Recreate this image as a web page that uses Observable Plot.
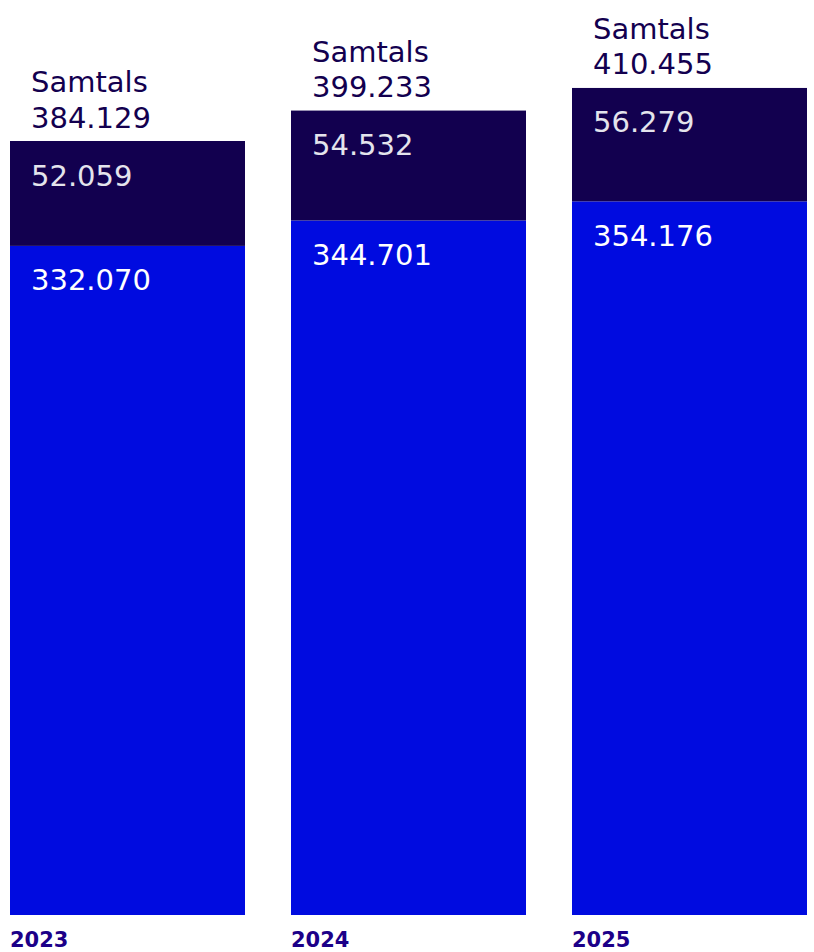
<!DOCTYPE html>
<html>
<head>
<meta charset="utf-8">
<script src="https://cdn.jsdelivr.net/npm/d3@7"></script>
<script src="https://cdn.jsdelivr.net/npm/@observablehq/plot@0.6"></script>
<style>
  html, body { margin: 0; padding: 0; background: #fff; }
  svg { display: block; }
</style>
</head>
<body>
<div id="chart"></div>
<script>
const years = ["2023", "2024", "2025"];
const lowerValues = [332070, 344701, 354176];
const upperValues = [52059, 54532, 56279];
const totals = [384129, 399233, 410455];
const totalLabel = "Samtals";

const fmt = d3.formatLocale({decimal: ",", thousands: ".", grouping: [3], currency: ["", " kr."]}).format(",d");

const segments = [];
years.forEach((y, i) => {
  segments.push({year: y, series: "lower", y1: 0, y2: lowerValues[i], value: lowerValues[i]});
  segments.push({year: y, series: "upper", y1: lowerValues[i], y2: lowerValues[i] + upperValues[i], value: upperValues[i]});
});
const totalRows = years.map((y, i) => ({year: y, total: totals[i], top: lowerValues[i] + upperValues[i]}));

const font = "'DejaVu Sans', sans-serif";
const W = 814, H = 952;
const pxPerUnit = 774 / 384129;
const yMax = 915 / pxPerUnit;

const chart = Plot.plot({
  width: W,
  height: H,
  marginLeft: 10,
  marginRight: 4,
  marginTop: 0,
  marginBottom: 37,
  style: {fontFamily: font, background: "#fff"},
  x: {domain: years, paddingInner: 0.162, paddingOuter: 0, align: 0, axis: null},
  y: {domain: [0, yMax], axis: null},
  color: {domain: ["lower", "upper"], range: ["#000be0", "#12004f"]},
  marks: [
    Plot.rectY(segments, {x: "year", y1: "y1", y2: "y2", fill: "series", inset: 0}),
    Plot.text(segments, {
      x: "year", y: "y2", text: d => fmt(d.value),
      textAnchor: "start", lineAnchor: "bottom", dx: -97, dy: 44,
      fontSize: 29, fill: d => d.series === "upper" ? "#e4e4ec" : "#ffffff"
    }),
    Plot.text(totalRows, {
      x: "year", y: "top", text: d => totalLabel + "\n" + fmt(d.total),
      textAnchor: "start", lineAnchor: "bottom", lineHeight: 1.22, dx: -97, dy: -14,
      fontSize: 29, fill: "#13004f"
    }),
    Plot.text(years, {
      x: d => d, y: 0, text: d => d,
      textAnchor: "start", lineAnchor: "bottom", dx: -118, dy: 31,
      fontSize: 21, fontWeight: "bold", fill: "#1c0088"
    })
  ]
});
document.getElementById("chart").appendChild(chart);
</script>
</body>
</html>
